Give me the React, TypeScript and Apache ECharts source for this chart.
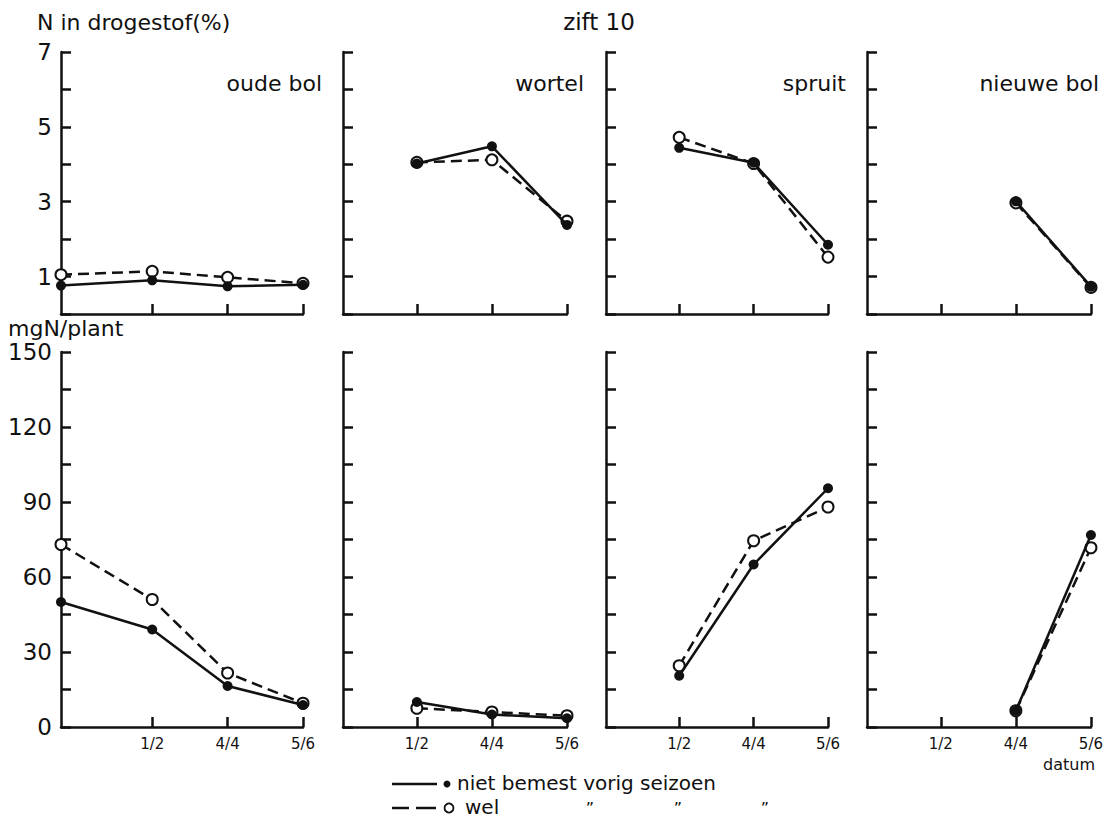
import React, { useEffect, useRef } from "react";
import * as echarts from "echarts";

// ---- data ----
// sampling dates as day-of-year (1/2 = 32, 4/4 = 94, 5/6 = 156); first oude-bol sample at planting (unlabelled)
const dateTickValues = [32, 94, 156];
const dateTickLabels = ["1/2", "4/4", "5/6"];
const datesOudeBol = [-43, 32, 94, 156];
const datesDefault = [32, 94, 156];
const datesNieuweBol = [94, 156];

const panelNames = ["oude bol", "wortel", "spruit", "nieuwe bol"];

// N in drogestof (%)
const oudeBolPctNiet = [0.76, 0.9, 0.74, 0.78];
const oudeBolPctWel = [1.05, 1.14, 0.98, 0.82];
const wortelPctNiet = [4.02, 4.48, 2.38];
const wortelPctWel = [4.05, 4.12, 2.48];
const spruitPctNiet = [4.44, 4.04, 1.85];
const spruitPctWel = [4.72, 4.02, 1.52];
const nieuweBolPctNiet = [3.01, 0.73];
const nieuweBolPctWel = [2.97, 0.71];

// mg N / plant
const oudeBolMgNiet = [50, 39, 16.4, 8.8];
const oudeBolMgWel = [73, 51, 21.6, 9.5];
const wortelMgNiet = [10, 5, 3.5];
const wortelMgWel = [7.5, 6, 4.5];
const spruitMgNiet = [20.5, 65, 95.5];
const spruitMgWel = [24.5, 74.5, 88];
const nieuweBolMgNiet = [6.5, 76.8];
const nieuweBolMgWel = [6.5, 71.7];

const pctTickLabels = [1, 3, 5, 7];
const mgTickLabels = [0, 30, 60, 90, 120, 150];

const FONT = "DejaVu Sans";
const INK = "#111";

export default function App() {
  const ref = useRef<HTMLDivElement>(null);

  useEffect(() => {
    if (!ref.current) return;
    const chart = echarts.init(ref.current, null, { renderer: "svg" });

    const lefts = [61, 343, 606, 867];
    const widths = [242, 224, 222, 224];
    const rowTop = [52, 352];
    const rowHeight = [262, 375];

    const grids: any[] = [];
    const xAxes: any[] = [];
    const yAxes: any[] = [];
    for (let r = 0; r < 2; r++) {
      for (let c = 0; c < 4; c++) {
        grids.push({ left: lefts[c], width: widths[c], top: rowTop[r], height: rowHeight[r] });
        const gi = r * 4 + c;
        xAxes.push({
          type: "value",
          gridIndex: gi,
          min: c === 0 ? -43 : -29,
          max: 156,
          splitLine: { show: false },
          axisLine: { show: true, onZero: false, lineStyle: { color: INK, width: 2.5 } },
          axisTick: {
            show: true,
            inside: true,
            length: 10,
            customValues: dateTickValues,
            lineStyle: { color: INK, width: 2.5 },
          },
          axisLabel: {
            show: r === 1,
            customValues: dateTickValues,
            formatter: (v: number) => dateTickLabels[dateTickValues.indexOf(v)] ?? "",
            color: INK,
            fontFamily: FONT,
            fontSize: 15,
            margin: 9,
          },
        });
        yAxes.push({
          type: "value",
          gridIndex: gi,
          min: 0,
          max: r === 0 ? 7 : 150,
          interval: r === 0 ? 1 : 15,
          splitLine: { show: false },
          axisLine: { show: true, onZero: false, lineStyle: { color: INK, width: 2.5 } },
          axisTick: { show: true, inside: true, length: 10, lineStyle: { color: INK, width: 2.5 } },
          axisLabel: {
            show: c === 0,
            customValues: r === 0 ? pctTickLabels : mgTickLabels,
            color: INK,
            fontFamily: FONT,
            fontSize: 23,
            margin: 9,
          },
        });
      }
    }

    const seriesDefs: [number, number[], number[], number[]][] = [
      [0, datesOudeBol, oudeBolPctNiet, oudeBolPctWel],
      [1, datesDefault, wortelPctNiet, wortelPctWel],
      [2, datesDefault, spruitPctNiet, spruitPctWel],
      [3, datesNieuweBol, nieuweBolPctNiet, nieuweBolPctWel],
      [4, datesOudeBol, oudeBolMgNiet, oudeBolMgWel],
      [5, datesDefault, wortelMgNiet, wortelMgWel],
      [6, datesDefault, spruitMgNiet, spruitMgWel],
      [7, datesNieuweBol, nieuweBolMgNiet, nieuweBolMgWel],
    ];

    const series: any[] = [];
    seriesDefs.forEach(([gi, dates, niet, wel]) => {
      series.push({
        type: "line",
        name: "wel",
        xAxisIndex: gi,
        yAxisIndex: gi,
        clip: false,
        data: dates.map((d, i) => [d, wel[i]]),
        symbol: "circle",
        symbolSize: 11,
        lineStyle: { color: INK, width: 2.5, type: [11, 6] },
        itemStyle: { color: "#fff", borderColor: INK, borderWidth: 2 },
        z: 2,
      });
      series.push({
        type: "line",
        name: "niet",
        xAxisIndex: gi,
        yAxisIndex: gi,
        clip: false,
        data: dates.map((d, i) => [d, niet[i]]),
        symbol: "circle",
        symbolSize: 10,
        lineStyle: { color: INK, width: 2.5, type: "solid" },
        itemStyle: { color: INK, borderColor: INK, borderWidth: 0 },
        z: 3,
      });
    });

    const txt = (x: number, y: number, text: string, size: number, align = "left", extra: any = {}) => ({
      type: "text",
      x,
      y,
      style: {
        text,
        fill: INK,
        font: `${size}px "${FONT}"`,
        textAlign: align,
        textVerticalAlign: "middle",
        ...extra,
      },
    });

    const titleRights = [322, 584, 846, 1099];
    const graphic: any[] = [
      txt(37, 22, "N in drogestof(%)", 22),
      txt(599, 22, "zift 10", 23, "center"),
      txt(8, 328, "mgN/plant", 22),
      txt(1069, 764, "datum", 16, "center"),
      ...panelNames.map((n, i) => txt(titleRights[i], 83, n, 22, "right")),
      // legend
      { type: "line", shape: { x1: 392, y1: 784, x2: 437, y2: 784 }, style: { stroke: INK, lineWidth: 2.5 } },
      { type: "circle", shape: { cx: 447, cy: 784, r: 3.5 }, style: { fill: INK } },
      txt(457, 783, "niet bemest vorig seizoen", 20),
      { type: "line", shape: { x1: 392, y1: 808, x2: 409, y2: 808 }, style: { stroke: INK, lineWidth: 2.5 } },
      { type: "line", shape: { x1: 416, y1: 808, x2: 436, y2: 808 }, style: { stroke: INK, lineWidth: 2.5 } },
      { type: "circle", shape: { cx: 449, cy: 808, r: 4.5 }, style: { fill: "#fff", stroke: INK, lineWidth: 1.8 } },
      txt(465, 807, "wel", 20),
      txt(590, 808, "\u201D", 16, "center"),
      txt(678, 808, "\u201D", 16, "center"),
      txt(765, 808, "\u201D", 16, "center"),
    ];

    chart.setOption({
      animation: false,
      backgroundColor: "#fff",
      grid: grids,
      xAxis: xAxes,
      yAxis: yAxes,
      series,
      graphic,
    });

    return () => chart.dispose();
  }, []);

  return (
    <div
      ref={ref}
      style={{ position: "absolute", left: 0, top: 0, width: 1106, height: 821, background: "#fff" }}
    />
  );
}
